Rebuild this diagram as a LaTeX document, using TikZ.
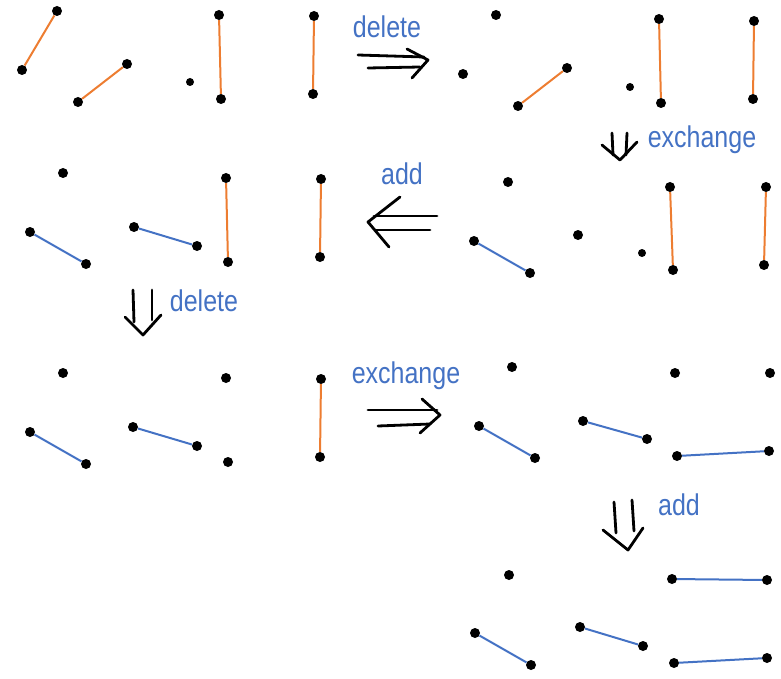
\documentclass[tikz,border=0pt]{standalone}
\usepackage{fontspec}
\usepackage{graphicx}
\setmainfont{Liberation Sans}
\definecolor{orangeE}{HTML}{ED7D31}
\definecolor{blueE}{HTML}{4472C4}
\newcommand{\tallword}[1]{\scalebox{1}[1.2]{#1}}
\begin{document}
\begin{tikzpicture}[x=1pt,y=-1pt,
  dot/.style={circle,fill=black,inner sep=0pt,minimum size=10pt},
  sdot/.style={circle,fill=black,inner sep=0pt,minimum size=8pt},
  oedge/.style={draw=orangeE,line width=2pt},
  bedge/.style={draw=blueE,line width=2pt},
  lbl/.style={text=blueE,font=\fontsize{25}{25}\selectfont,inner sep=0pt},
  harrow/.style={line width=2.8pt,line cap=round,line join=round,black}]
\useasboundingbox (0,0) rectangle (781,679);

% ---------- panel 1 (top left)
\node[dot] (a1) at (57,11) {};  \node[dot] (a2) at (22,70) {};
\node[dot] (a3) at (127,64) {}; \node[dot] (a4) at (78,102) {};
\node[sdot] (a5) at (190,82) {};
\node[dot] (a6) at (219,15) {}; \node[dot] (a7) at (221,99) {};
\node[dot] (a8) at (314,16) {}; \node[dot] (a9) at (313,94) {};
\draw[oedge] (a1) -- (a2);
\draw[oedge] (a3) -- (a4);
\draw[oedge] (a6) -- (a7);
\draw[oedge] (a8) -- (a9);

% ---------- panel 2 (top right)
\node[dot] (b1) at (496,15) {};  \node[dot] (b2) at (463,74) {};
\node[dot] (b3) at (567,68) {};  \node[dot] (b4) at (518,106) {};
\node[sdot] (b5) at (630,87) {};
\node[dot] (b6) at (659,19) {};  \node[dot] (b7) at (661,103) {};
\node[dot] (b8) at (754,21) {};  \node[dot] (b9) at (753,99) {};
\draw[oedge] (b3) -- (b4);
\draw[oedge] (b6) -- (b7);
\draw[oedge] (b8) -- (b9);

% ---------- panel 3 (middle right)
\node[dot] (c1) at (508,182) {}; \node[dot] (c2) at (474,241) {};
\node[dot] (c3) at (530,273) {}; \node[dot] (c4) at (578,235) {};
\node[sdot] (c5) at (642,253) {};
\node[dot] (c6) at (670,187) {}; \node[dot] (c7) at (673,270) {};
\node[dot] (c8) at (766,187) {}; \node[dot] (c9) at (764,265) {};
\draw[bedge] (c2) -- (c3);
\draw[oedge] (c6) -- (c7);
\draw[oedge] (c8) -- (c9);

% ---------- panel 4 (middle left)
\node[dot] (d1) at (63,173) {};  \node[dot] (d2) at (30,232) {};
\node[dot] (d3) at (86,264) {};  \node[dot] (d4) at (134,227) {};
\node[dot] (d5) at (197,246) {};
\node[dot] (d6) at (226,178) {}; \node[dot] (d7) at (228,262) {};
\node[dot] (d8) at (321,179) {}; \node[dot] (d9) at (320,257) {};
\draw[bedge] (d2) -- (d3);
\draw[bedge] (d4) -- (d5);
\draw[oedge] (d6) -- (d7);
\draw[oedge] (d8) -- (d9);

% ---------- panel 5 (lower left)
\node[dot] (e1) at (63,373) {};  \node[dot] (e2) at (30,432) {};
\node[dot] (e3) at (86,464) {};  \node[dot] (e4) at (133,427) {};
\node[dot] (e5) at (197,446) {};
\node[dot] (e6) at (226,378) {}; \node[dot] (e7) at (228,462) {};
\node[dot] (e8) at (321,379) {}; \node[dot] (e9) at (320,457) {};
\draw[bedge] (e2) -- (e3);
\draw[bedge] (e4) -- (e5);
\draw[oedge] (e8) -- (e9);

% ---------- panel 6 (lower right)
\node[dot] (f1) at (512,367) {}; \node[dot] (f2) at (479,426) {};
\node[dot] (f3) at (535,458) {}; \node[dot] (f4) at (583,421) {};
\node[dot] (f5) at (647,439) {};
\node[dot] (f6) at (675,373) {}; \node[dot] (f7) at (770,373) {};
\node[dot] (f8) at (677,456) {}; \node[dot] (f9) at (769,451) {};
\draw[bedge] (f2) -- (f3);
\draw[bedge] (f4) -- (f5);
\draw[bedge] (f8) -- (f9);

% ---------- panel 7 (bottom right)
\node[dot] (g1) at (509,575) {}; \node[dot] (g2) at (475,633) {};
\node[dot] (g3) at (531,665) {}; \node[dot] (g4) at (580,627) {};
\node[dot] (g5) at (643,646) {};
\node[dot] (g6) at (672,579) {}; \node[dot] (g7) at (767,580) {};
\node[dot] (g8) at (674,663) {}; \node[dot] (g9) at (767,658) {};
\draw[bedge] (g2) -- (g3);
\draw[bedge] (g4) -- (g5);
\draw[bedge] (g6) -- (g7);
\draw[bedge] (g8) -- (g9);

% ---------- transition arrows
% delete (right)
\draw[harrow] (358,55) -- (424,57);
\draw[harrow] (368,68) -- (420,67);
\draw[harrow] (407,49) -- (428,60) -- (412,78);
\node[lbl] (t1) at (387,27) {\tallword{delete}};
% exchange (down, right column)
\draw[harrow] (612,133) -- (613,155);
\draw[harrow] (627,133) -- (626,155);
\draw[harrow] (602,145) -- (620,160) -- (637,142);
\node[lbl] (t2) at (702,140) {\tallword{exchange}};
% add (left)
\draw[harrow] (437,216) -- (374,216);
\draw[harrow] (430,230) -- (376,230);
\draw[harrow] (400,197) -- (368,222) -- (389,247);
\node[lbl] (t3) at (402,174) {\tallword{add}};
% delete (down, left column)
\draw[harrow] (133,290) -- (134,322);
\draw[harrow] (152,290) -- (152,320);
\draw[harrow] (125,317) -- (143,335) -- (161,315);
\node[lbl] (t4) at (204,301) {\tallword{delete}};
% exchange (right)
\draw[harrow] (368,410) -- (437,410);
\draw[harrow] (378,426) -- (430,424);
\draw[harrow] (422,399) -- (440,415) -- (420,433);
\node[lbl] (t5) at (406,376) {\tallword{exchange}};
% add (down)
\draw[harrow] (614,502) -- (616,533);
\draw[harrow] (632,500) -- (634,531);
\draw[harrow] (603,530) -- (628,550) -- (643,528);
\node[lbl] (t6) at (679,505) {\tallword{add}};
\end{tikzpicture}
\end{document}
